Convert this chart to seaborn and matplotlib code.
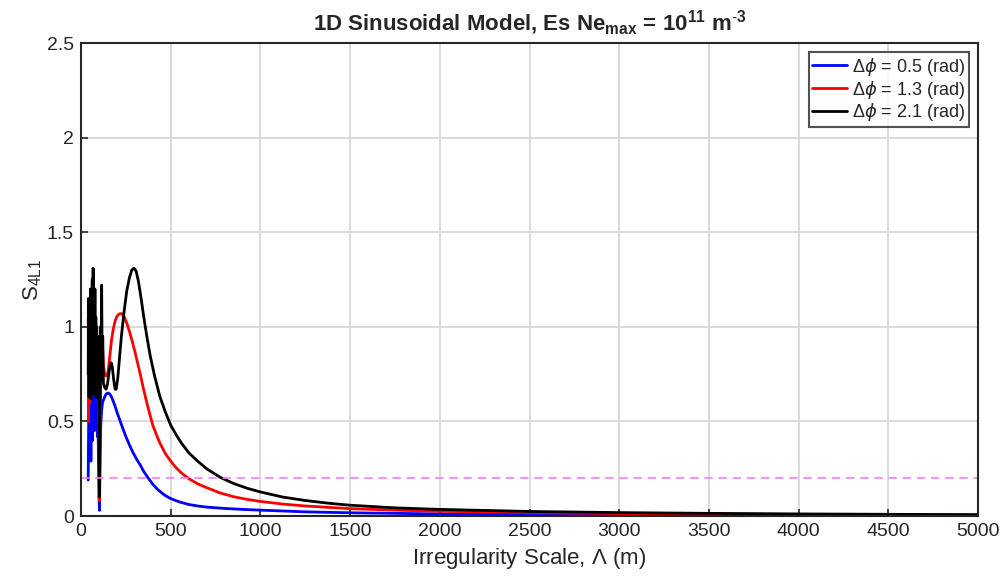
import matplotlib.pyplot as plt
import pandas as pd
import seaborn as sns

x_05 = [40, 43, 46, 49, 52, 55, 58, 61, 64, 67, 70, 73, 76, 79, 82, 85, 88, 91,
        94, 97, 100, 103, 106, 110, 115, 120, 130, 140, 150, 160, 170, 180,
        190, 200, 215, 230, 250, 270, 290, 310, 330, 350, 375, 400, 425, 450,
        475, 500, 550, 600, 650, 700, 800, 900, 1000, 1250, 1500, 1750, 2000,
        2500, 3000, 3500, 4000, 5000]
s4_05 = [0.19, 0.55, 0.64, 0.35, 0.6, 0.29, 0.55, 0.65, 0.4, 0.62, 0.65, 0.45,
         0.63, 0.66, 0.5, 0.64, 0.6, 0.42, 0.55, 0.3, 0.1, 0.03, 0.3, 0.48,
         0.56, 0.6, 0.625, 0.645, 0.65, 0.645, 0.63, 0.605, 0.58, 0.55, 0.51,
         0.47, 0.42, 0.375, 0.335, 0.30, 0.27, 0.235, 0.2, 0.168, 0.142, 0.122,
         0.105, 0.092, 0.074, 0.061, 0.053, 0.047, 0.04, 0.035, 0.031, 0.022,
         0.017, 0.014, 0.011, 0.008, 0.006, 0.005, 0.004, 0.003]

x_13 = [40, 42, 45, 48, 51, 54, 57, 60, 63, 66, 69, 72, 75, 78, 81, 84, 87, 90,
        94, 98, 103, 107, 112, 118, 124, 132, 140, 145, 152, 160, 170, 180,
        190, 200, 212, 227, 240, 255, 270, 285, 300, 315, 330, 345, 360, 380,
        400, 420, 440, 470, 500, 530, 560, 600, 650, 700, 775, 850, 925, 1000,
        1125, 1250, 1500, 1750, 2000, 2500, 3000, 3500, 4000, 4500, 5000]
s4_13 = [1.05, 0.5, 1.05, 0.6, 1.0, 0.65, 0.95, 0.7, 1.05, 0.75, 1.0, 0.7, 0.95,
         0.72, 1.0, 0.75, 0.9, 0.7, 0.85, 0.5, 0.08, 0.5, 0.85, 0.95, 0.8,
         0.75, 0.74, 0.74, 0.77, 0.84, 0.93, 0.99, 1.03, 1.055, 1.068, 1.07,
         1.055, 1.02, 0.975, 0.925, 0.87, 0.81, 0.75, 0.685, 0.625, 0.55, 0.48,
         0.43, 0.385, 0.33, 0.29, 0.255, 0.227, 0.198, 0.17, 0.15, 0.122,
         0.102, 0.088, 0.077, 0.063, 0.053, 0.039, 0.031, 0.025, 0.018, 0.013,
         0.01, 0.008, 0.007, 0.006]

x_21 = [40, 42.5, 45, 47.5, 50, 52.5, 55, 57.5, 60, 62.5, 65, 67.5, 70, 72.5,
        75, 77.5, 80, 82.5, 85, 87.5, 90, 92.5, 95, 97.5, 100, 103, 106, 109,
        112, 115, 118, 121, 125, 132, 140, 148, 156, 163, 168, 174, 182, 190,
        196, 205, 215, 225, 240, 255, 270, 283, 295, 307, 320, 335, 350, 365,
        385, 410, 440, 470, 500, 530, 560, 600, 650, 700, 775, 850, 925, 1000,
        1125, 1250, 1375, 1500, 1750, 2000, 2500, 3000, 3500, 4000, 4500, 5000]
s4_21 = [0.75, 1.15, 0.63, 1.0, 0.68, 1.2, 0.62, 1.05, 0.7, 1.25, 0.65, 1.31,
         0.72, 1.1, 0.64, 1.2, 0.7, 1.05, 0.63, 1.0, 0.68, 0.95, 0.62, 0.85,
         0.5, 0.1, 0.6, 1.0, 0.72, 1.22, 0.78, 0.95, 0.7, 0.68, 0.67, 0.7,
         0.76, 0.8, 0.81, 0.79, 0.72, 0.67, 0.67, 0.73, 0.84, 0.95, 1.08, 1.19,
         1.26, 1.3, 1.31, 1.295, 1.24, 1.15, 1.05, 0.96, 0.85, 0.74, 0.63,
         0.55, 0.48, 0.43, 0.385, 0.335, 0.29, 0.25, 0.205, 0.172, 0.147,
         0.127, 0.1, 0.082, 0.068, 0.057, 0.043, 0.035, 0.024, 0.018, 0.014,
         0.011, 0.009, 0.007]

labels = [r"$\Delta\phi$ = 0.5 (rad)", r"$\Delta\phi$ = 1.3 (rad)",
          r"$\Delta\phi$ = 2.1 (rad)"]
threshold = 0.2

# Long-form table for seaborn
df = pd.concat([
    pd.DataFrame({"scale": x_05, "s4": s4_05, "dphi": labels[0]}),
    pd.DataFrame({"scale": x_13, "s4": s4_13, "dphi": labels[1]}),
    pd.DataFrame({"scale": x_21, "s4": s4_21, "dphi": labels[2]}),
])

sns.set_style("white")
plt.rcParams["font.family"] = ["Liberation Sans", "DejaVu Sans"]
plt.rcParams["mathtext.fontset"] = "custom"
plt.rcParams["mathtext.rm"] = "Liberation Sans"
plt.rcParams["mathtext.bf"] = "Liberation Sans:bold"
plt.rcParams["mathtext.it"] = "DejaVu Sans:italic"

fig = plt.figure(figsize=(10.04, 5.79), dpi=100)
ax = fig.add_axes([0.0807, 0.1088, 0.8934, 0.8169])

sns.lineplot(data=df, x="scale", y="s4", hue="dphi", sort=False,
             palette=["#0000ff", "#ff0000", "#000000"], linewidth=2, ax=ax)
ax.axhline(threshold, color="#f080f0", linestyle=(0, (5, 3.5)), linewidth=1.2)

ax.set_xlim(0, 5000)
ax.set_ylim(0, 2.5)
ax.set_xticks(range(0, 5001, 500))
ax.set_yticks([0, 0.5, 1, 1.5, 2, 2.5])
ax.set_yticklabels(["0", "0.5", "1", "1.5", "2", "2.5"])
ax.grid(True, color="#d8d8d8", linewidth=1.3)
ax.tick_params(direction="in", length=5, width=1.2, colors="#262626",
               labelsize=14, bottom=True, left=True, pad=5)
for sp in ax.spines.values():
    sp.set_color("#262626")
    sp.set_linewidth(1.5)

ax.set_xlabel(r"Irregularity Scale, $\Lambda$ (m)", fontsize=16, color="#262626")
ax.set_ylabel(r"S$_{\rm 4L1}$", fontsize=16, color="#262626", labelpad=2)
ax.set_title(r"1D Sinusoidal Model, Es Ne$_{\bf max}$ = 10$^{\bf 11}$ m$^{\bf{\text{-}}\bf 3}$",
             fontsize=16, fontweight="bold", pad=9)

leg = ax.legend(loc="upper right", fontsize=13, frameon=True, fancybox=False,
                handlelength=1.9, handletextpad=0.3, borderpad=0.2,
                labelspacing=0.05, borderaxespad=0.5)
leg.get_frame().set_edgecolor("#262626")
leg.get_frame().set_linewidth(1.5)

fig.savefig("out.png", dpi=100)
